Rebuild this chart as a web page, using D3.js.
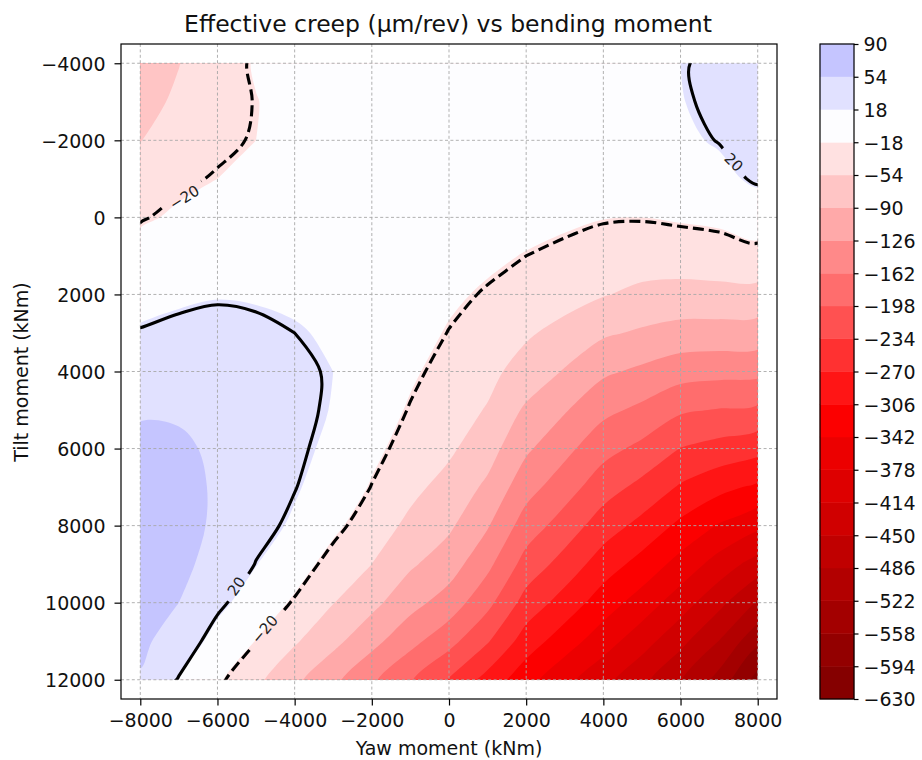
<!DOCTYPE html>
<meta charset="utf-8">
<style>
body { margin: 0; background: #fff; }
svg text { font-family: "DejaVu Sans", sans-serif; }
</style>
<svg width="922" height="760"></svg>
<script src="https://d3js.org/d3.v7.min.js"></script>
<script>

// grid of the surface (kNm)
var yawGrid  = [-8000, -7000, -6000, -5000, -4000, -3000, -2000, -1000, 0, 1000, 2000, 3000, 4000, 5000, 6000, 7000, 8000];
var tiltGrid = [-4000, -3000, -2000, -1000, 0, 1000, 2000, 3000, 4000, 5000, 6000, 7000, 8000, 9000, 10000, 11000, 12000];

// effective creep (um/rev), one row per tilt value
var creepRows = [
  [-78, -55, -36, -15,  -5,    1,    5,    7,    8,    8,    8,    9,   11,   14,   18,   26,   44],
  [-66, -48, -29, -19,  -7,   -1,    3,    6,    7,    8,    8,   10,   12,   14,   17,   25,   40],
  [-55, -35, -25, -18,  -7,   -1,    3,    6,    6,    7,    7,    9,   10,   12,   13,   21,   34],
  [-37, -24, -18, -10,  -3,    2,    5,    6,    5,    5,    4,    4,    2,    4,    5,   10,   24],
  [-22, -14,  -9,  -2,   3,    6,    7,    6,    2,   -1,   -5,  -12,  -17,  -18,  -15,  -12,   -2],
  [ -7,  -3,   3,   6,   9,   10,    9,    5,   -3,  -11,  -20,  -27,  -35,  -37,  -36,  -33,  -29],
  [  7,  12,  16,  15,  14,   13,   10,    2,  -12,  -23,  -34,  -42,  -52,  -62,  -66,  -65,  -66],
  [ 22,  28,  31,  26,  20,   15,    9,   -5,  -21,  -34,  -50,  -64,  -85,  -95, -103, -104, -106],
  [ 37,  41,  41,  34,  24,   18,    6,  -13,  -31,  -46,  -66,  -93, -120, -133, -147, -151, -152],
  [ 51,  51,  47,  38,  25,   17,    0,  -22,  -41,  -56,  -96, -123, -153, -170, -193, -200, -205],
  [ 61,  58,  50,  39,  24,   13,  -10,  -32,  -48,  -75, -120, -152, -186, -207, -235, -247, -258],
  [ 68,  62,  51,  36,  21,    5,  -21,  -45,  -66,  -97, -148, -182, -218, -244, -274, -295, -313],
  [ 71,  63,  50,  29,  14,  -11,  -36,  -62,  -84, -123, -179, -214, -252, -281, -314, -345, -370],
  [ 71,  61,  44,  19,  -3,  -31,  -54,  -85, -109, -153, -212, -248, -288, -319, -355, -393, -430],
  [ 68,  54,  26,   3, -23,  -53,  -80, -114, -142, -188, -248, -285, -324, -358, -397, -440, -490],
  [ 61,  38,   7, -19, -50,  -80, -115, -151, -186, -231, -287, -325, -362, -399, -440, -487, -550],
  [ 51,  18, -13, -46, -82, -118, -156, -195, -237, -283, -329, -368, -403, -441, -484, -535, -610]
];

// filled contour levels and the two labelled lines
var levels = [-630, -594, -558, -522, -486, -450, -414, -378, -342, -306, -270, -234, -198, -162, -126, -90, -54, -18, 18, 54, 90];
var lineLevels = [-20, 20];
var colorLimit = 630;

var yawTicks  = [-8000, -6000, -4000, -2000, 0, 2000, 4000, 6000, 8000];
var tiltTicks = [-4000, -2000, 0, 2000, 4000, 6000, 8000, 10000, 12000];

var contourLabels = [
  {text: "\u221220", yaw: -6860, tilt: -520,  angle: -32, gap: 46},
  {text: "20",       yaw: 7380,  tilt: -1430, angle: 45,  gap: 35},
  {text: "20",       yaw: -5510, tilt: 9570,  angle: -55, gap: 34},
  {text: "\u221220", yaw: -4780, tilt: 10690, angle: -50, gap: 46}
];

var svg = d3.select("svg");
var fmt = d3.format("d");
var ink = "#111";

var x = d3.scaleLinear().domain([-8500, 8500]).range([121, 777]);
var y = d3.scaleLinear().domain([-4500, 12500]).range([44, 699]);

var nx = yawGrid.length, ny = tiltGrid.length;
var values = creepRows.flat();

// grid index -> data (samples sit at i + 0.5 in d3.contours space)
var gx = d3.scaleLinear().domain([0.5, nx - 0.5]).range([yawGrid[0], yawGrid[nx - 1]]);
var gy = d3.scaleLinear().domain([0.5, ny - 0.5]).range([tiltGrid[0], tiltGrid[ny - 1]]);
function toPx(p) { return [x(gx(p[0])), y(gy(p[1]))]; }

// seismic_r like colormap, symmetric about zero
function seismic(t) {
  var stops = [[0, [0, 0, 0.3]], [0.25, [0, 0, 1]], [0.5, [1, 1, 1]], [0.75, [1, 0, 0]], [1, [0.5, 0, 0]]];
  for (var i = 0; i < stops.length - 1; i++) {
    var a = stops[i], b = stops[i + 1];
    if (t <= b[0]) {
      var u = (t - a[0]) / (b[0] - a[0]);
      return d3.rgb(
        255 * (a[1][0] + u * (b[1][0] - a[1][0])),
        255 * (a[1][1] + u * (b[1][1] - a[1][1])),
        255 * (a[1][2] + u * (b[1][2] - a[1][2])));
    }
  }
  return d3.rgb(128, 0, 0);
}
function bandColour(v) {
  var xn = (v + colorLimit) / (2 * colorLimit);
  var idx = Math.max(0, Math.min(255, Math.floor(xn * 256)));
  return seismic((255 - idx) / 255).formatHex();
}

var defs = svg.append("defs");
defs.append("clipPath").attr("id", "dataclip")
  .append("rect")
    .attr("x", x(yawGrid[0])).attr("y", y(tiltGrid[0]))
    .attr("width", x(yawGrid[nx - 1]) - x(yawGrid[0]))
    .attr("height", y(tiltGrid[ny - 1]) - y(tiltGrid[0]));

// gaps in the lines where the labels sit
var mask = defs.append("mask").attr("id", "labelgap")
  .attr("maskUnits", "userSpaceOnUse")
  .attr("x", 0).attr("y", 0).attr("width", 922).attr("height", 760);
mask.append("rect").attr("width", 922).attr("height", 760).attr("fill", "white");
mask.selectAll("rect.gap").data(contourLabels).enter().append("rect")
  .attr("class", "gap")
  .attr("x", function(d) { return -d.gap / 2; })
  .attr("y", -10).attr("width", function(d) { return d.gap; }).attr("height", 20)
  .attr("fill", "black")
  .attr("transform", function(d) { return "translate(" + x(d.yaw) + "," + y(d.tilt) + ") rotate(" + d.angle + ")"; });

var contours = d3.contours().size([nx, ny]).smooth(true);
var ringLine = d3.line().curve(d3.curveCatmullRomClosed.alpha(0.5));
var openLine = d3.line().curve(d3.curveCatmullRom.alpha(0.5));

function geomPath(geom) {
  return geom.coordinates.map(function(poly) {
    return poly.map(function(ring) { return ringLine(ring.slice(0, -1).map(toPx)); }).join("");
  }).join("");
}

// filled bands
var fills = svg.append("g").attr("clip-path", "url(#dataclip)");
for (var i = 0; i < levels.length - 1; i++) {
  fills.append("path")
    .attr("d", geomPath(contours.contour(values, levels[i])))
    .attr("fill", bandColour((levels[i] + levels[i + 1]) / 2));
}

// grid
var grid = svg.append("g")
  .attr("stroke", "#a8a8a8").attr("stroke-width", 0.9).attr("stroke-dasharray", "3,2.4");
grid.selectAll("line.v").data(yawTicks).enter().append("line")
  .attr("x1", x).attr("x2", x).attr("y1", 44).attr("y2", 699);
grid.selectAll("line.h").data(tiltTicks).enter().append("line")
  .attr("y1", y).attr("y2", y).attr("x1", 121).attr("x2", 777);

// iso lines: drop the parts that run along the padding frame
function isoLines(level) {
  var geom = contours.contour(values, level);
  var onFrame = function(p) { return p[0] <= 0 || p[0] >= nx || p[1] <= 0 || p[1] >= ny; };
  var out = [];
  geom.coordinates.forEach(function(poly) {
    poly.forEach(function(ring) {
      var pts = ring.slice(0, -1);
      var k = pts.findIndex(onFrame);
      if (k < 0) { out.push({pts: pts, closed: true}); return; }
      pts = pts.slice(k).concat(pts.slice(0, k));
      pts.push(pts[0]);
      var cur = [];
      for (var j = 0; j < pts.length - 1; j++) {
        var a = pts[j], b = pts[j + 1];
        if (onFrame(a) && onFrame(b)) {
          if (cur.length > 1) out.push({pts: cur, closed: false});
          cur = [];
          continue;
        }
        if (cur.length === 0) cur.push(a);
        cur.push(b);
      }
      if (cur.length > 1) out.push({pts: cur, closed: false});
    });
  });
  return out;
}

var lines = svg.append("g").attr("clip-path", "url(#dataclip)")
  .append("g").attr("mask", "url(#labelgap)");
lineLevels.forEach(function(level) {
  isoLines(level).forEach(function(seg) {
    var px = seg.pts.map(toPx);
    lines.append("path")
      .attr("d", seg.closed ? ringLine(px) : openLine(px))
      .attr("fill", "none")
      .attr("stroke", "black")
      .attr("stroke-width", 3.1)
      .attr("stroke-dasharray", level < 0 ? "11,5" : null);
  });
});

svg.append("g").selectAll("text").data(contourLabels).enter().append("text")
  .attr("transform", function(d) { return "translate(" + x(d.yaw) + "," + y(d.tilt) + ") rotate(" + d.angle + ")"; })
  .attr("text-anchor", "middle").attr("dy", "0.36em")
  .attr("font-size", 15).attr("fill", "#222")
  .text(function(d) { return d.text; });

// axes frame
svg.append("rect").attr("x", 121).attr("y", 44).attr("width", 656).attr("height", 655)
  .attr("fill", "none").attr("stroke", "black").attr("stroke-width", 1.2);

var xAxis = svg.append("g").attr("transform", "translate(0,699)")
  .call(d3.axisBottom(x).tickValues(yawTicks).tickFormat(fmt).tickSize(6.5).tickPadding(8));
var yAxis = svg.append("g").attr("transform", "translate(121,0)")
  .call(d3.axisLeft(y).tickValues(tiltTicks).tickFormat(fmt).tickSize(6.5).tickPadding(9));
[xAxis, yAxis].forEach(function(g) {
  g.select(".domain").remove();
  g.attr("font-family", null).attr("font-size", 19);
  g.selectAll("line").attr("stroke", "black").attr("stroke-width", 1.2);
  g.selectAll("text").attr("fill", ink);
});
yAxis.selectAll("text").attr("dy", "0.36em");

// colour bar
var cb = d3.scaleLinear().domain([levels[0], levels[levels.length - 1]]).range([699, 44]);
var bar = svg.append("g");
bar.selectAll("rect").data(d3.range(levels.length - 1)).enter().append("rect")
  .attr("x", 820).attr("width", 34)
  .attr("y", function(i) { return cb(levels[i + 1]); })
  .attr("height", function(i) { return cb(levels[i]) - cb(levels[i + 1]); })
  .attr("fill", function(i) { return bandColour((levels[i] + levels[i + 1]) / 2); })
  .attr("stroke", function(i) { return bandColour((levels[i] + levels[i + 1]) / 2); })
  .attr("stroke-width", 0.5);
svg.append("rect").attr("x", 820).attr("y", 44).attr("width", 34).attr("height", 655)
  .attr("fill", "none").attr("stroke", "black").attr("stroke-width", 1.2);
var cAxis = svg.append("g").attr("transform", "translate(854,0)")
  .call(d3.axisRight(cb).tickValues(levels).tickFormat(fmt).tickSize(4.5).tickPadding(5));
cAxis.select(".domain").remove();
cAxis.attr("font-family", null).attr("font-size", 19);
cAxis.selectAll("line").attr("stroke", "black").attr("stroke-width", 1.2);
cAxis.selectAll("text").attr("fill", ink).attr("dy", "0.36em");

// titles
svg.append("text").attr("x", 448).attr("y", 31.5).attr("text-anchor", "middle")
  .attr("font-size", 23.5).attr("fill", ink)
  .text("Effective creep (\u00b5m/rev) vs bending moment");
svg.append("text").attr("x", 449).attr("y", 755).attr("text-anchor", "middle")
  .attr("font-size", 19).attr("fill", ink)
  .text("Yaw moment (kNm)");
svg.append("text").attr("transform", "translate(28,372) rotate(-90)").attr("text-anchor", "middle")
  .attr("font-size", 19).attr("fill", ink)
  .text("Tilt moment (kNm)");

</script>
